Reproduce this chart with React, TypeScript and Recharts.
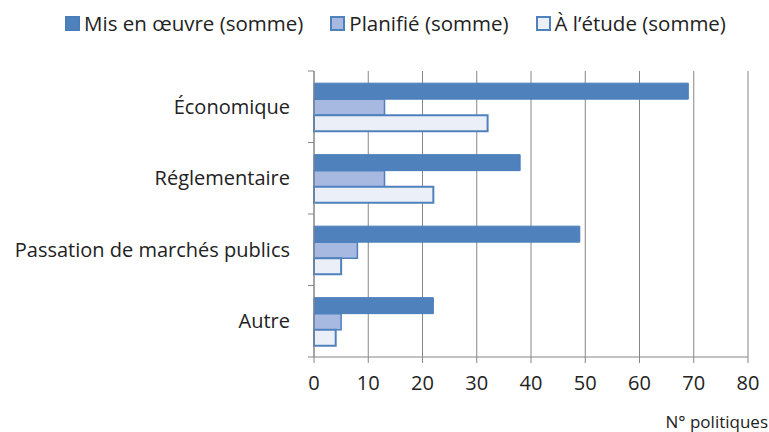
import { BarChart, Bar, XAxis, YAxis, CartesianGrid } from 'recharts'

const categories = ['Économique', 'Réglementaire', 'Passation de marchés publics', 'Autre']
const misEnOeuvre = [69, 38, 49, 22]
const planifie = [13, 13, 8, 5]
const aLEtude = [32, 22, 5, 4]
const xTicks = [0, 10, 20, 30, 40, 50, 60, 70, 80]

const data = categories.map((name, i) => ({
  name,
  mis: misEnOeuvre[i],
  planifie: planifie[i],
  etude: aLEtude[i],
}))

const FONT = '"Open Sans", "Noto Sans", sans-serif'
const AXIS = '#868686'
const TICK_MARGIN = 24

const legendItems = [
  { label: 'Mis en œuvre (somme)', fill: '#4F81BD', stroke: '#4A7EBB' },
  { label: 'Planifié (somme)', fill: '#A7B8E1', stroke: '#4F81BD' },
  { label: 'À l’étude (somme)', fill: '#EBEFF8', stroke: '#4F81BD' },
]

// category label + tick marks on the band edges (Excel style)
function CategoryTick(props: any) {
  const { x, y, payload, index, visibleTicksCount } = props
  const half = payload.offset || 0
  const axisX = x + TICK_MARGIN
  return (
    <g>
      <line x1={axisX - 6} x2={axisX} y1={y - half} y2={y - half} stroke={AXIS} />
      {index === visibleTicksCount - 1 && (
        <line x1={axisX - 6} x2={axisX} y1={y + half} y2={y + half} stroke={AXIS} />
      )}
      <text x={x} y={y} dy="0.35em" textAnchor="end" fill="#222" fontSize={20} fontFamily={FONT}>
        {payload.value}
      </text>
    </g>
  )
}

export default function App() {
  return (
    <div style={{ position: 'absolute', left: 0, top: 0, width: 769, height: 432, background: '#fff', fontFamily: FONT }}>
      {/* legend */}
      <div
        style={{
          position: 'absolute',
          top: 9,
          left: 0,
          width: 769,
          paddingLeft: 22,
          boxSizing: 'border-box',
          display: 'flex',
          justifyContent: 'center',
          gap: 27,
          fontSize: 20.5,
          lineHeight: '28px',
          color: '#222',
        }}
      >
        {legendItems.map((it) => (
          <div key={it.label} style={{ display: 'flex', alignItems: 'center', gap: 4 }}>
            <span
              style={{
                display: 'inline-block',
                width: 11,
                height: 11,
                background: it.fill,
                border: `2px solid ${it.stroke}`,
              }}
            />
            <span>{it.label}</span>
          </div>
        ))}
      </div>

      <BarChart
        width={769}
        height={432}
        data={data}
        layout="vertical"
        margin={{ top: 71, right: 21, bottom: 0, left: 0 }}
        barCategoryGap="17%"
        barGap={0}
      >
        <CartesianGrid horizontal={false} stroke={AXIS} strokeWidth={1} />
        <XAxis
          type="number"
          domain={[0, 80]}
          ticks={xTicks}
          interval={0}
          height={75}
          stroke={AXIS}
          tickSize={6}
          tickMargin={13}
          tick={{ fill: '#222', fontSize: 20, fontFamily: FONT }}
          label={{
            content: ({ viewBox }: any) => (
              <text
                x={viewBox.x + viewBox.width + 20}
                y={viewBox.y + viewBox.height - 4}
                textAnchor="end"
                fill="#222"
                fontSize={17}
                fontFamily={FONT}
              >
                N° politiques
              </text>
            ),
          }}
        />
        <YAxis
          type="category"
          dataKey="name"
          width={314}
          stroke={AXIS}
          tickLine={false}
          tickSize={0}
          tickMargin={TICK_MARGIN}
          interval={0}
          tick={<CategoryTick />}
        />
        <Bar dataKey="mis" fill="#4F81BD" stroke="#4A7EBB" strokeWidth={1} isAnimationActive={false} />
        <Bar dataKey="planifie" fill="#A7B8E1" stroke="#4F81BD" strokeWidth={1.5} isAnimationActive={false} />
        <Bar dataKey="etude" fill="#EBEFF8" stroke="#4F81BD" strokeWidth={2} isAnimationActive={false} />
      </BarChart>
    </div>
  )
}
